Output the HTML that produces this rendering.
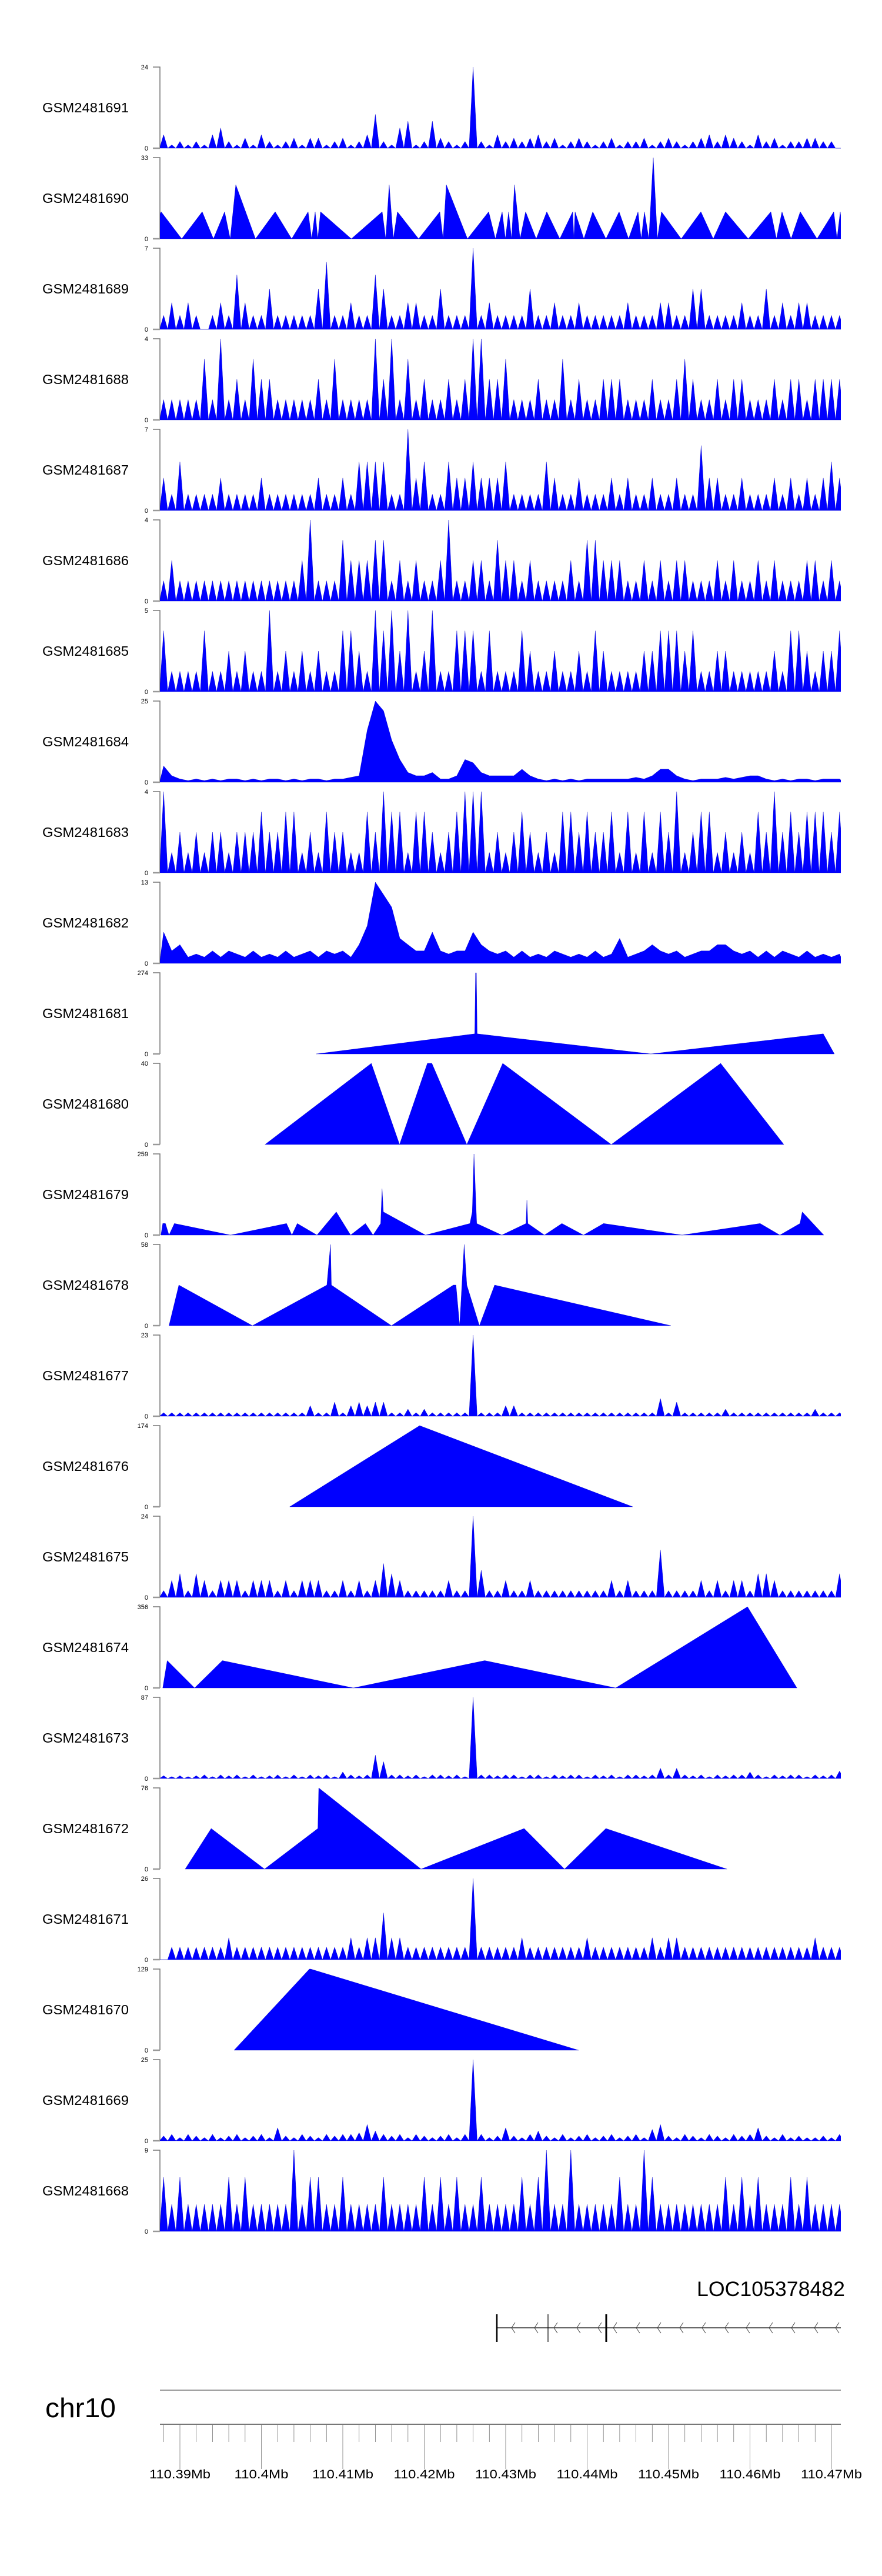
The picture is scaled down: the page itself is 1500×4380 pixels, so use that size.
<!DOCTYPE html>
<html><head><meta charset="utf-8"><style>
html,body{margin:0;padding:0;background:#fff;}
svg{display:block;font-family:"Liberation Sans",Arial,sans-serif;}
</style></head><body>
<svg id="chart" xmlns="http://www.w3.org/2000/svg" width="1500" height="4380" viewBox="0 0 1500 4380"></svg>
<script>
// ---- data ----
const names = ['GSM2481691','GSM2481690','GSM2481689','GSM2481688','GSM2481687','GSM2481686','GSM2481685','GSM2481684','GSM2481683','GSM2481682','GSM2481681','GSM2481680','GSM2481679','GSM2481678','GSM2481677','GSM2481676','GSM2481675','GSM2481674','GSM2481673','GSM2481672','GSM2481671','GSM2481670','GSM2481669','GSM2481668'];
const maxes = [24,33,7,4,7,4,5,25,4,13,274,40,259,58,23,174,24,356,87,76,26,129,25,9];
// dense binned tracks: value per 1 kb bin, bin k at 110.388+k kb
const v1 = [4,1,2,1,2,1,4,6,2,1,3,1,4,2,1,2,3,1,3,3,1,2,3,1,2,4,10,2,1,6,8,1,2,8,3,2,1,2,24,2,1,4,2,3,2,3,4,2,3,1,2,3,2,1,2,3,1,2,2,3,1,2,3,2,1,2,3,4,2,4,3,2,1,4,2,3,1,2,2,3,3,2,2,0];
const v3 = [1.2,2.3,1.2,2.3,1.2,0,1.2,2.3,1.2,4.7,2.3,1.2,1.2,3.5,1.2,1.2,1.2,1.2,1.2,3.5,5.8,1.2,1.2,2.3,1.2,1.2,4.7,3.5,1.2,1.2,2.3,2.3,1.2,1.2,3.5,1.2,1.2,1.2,7,1.2,2.3,1.2,1.2,1.2,1.2,3.5,1.2,1.2,2.3,1.2,1.2,2.3,1.2,1.2,1.2,1.2,1.2,2.3,1.2,1.2,1.2,2.3,2.3,1.2,1.2,3.5,3.5,1.2,1.2,1.2,1.2,2.3,1.2,1.2,3.5,1.2,2.3,1.2,2.3,2.3,1.2,1.2,1.2,1.2];
const v4 = [1,1,1,1,1,3,1,4,1,2,1,3,2,2,1,1,1,1,1,2,1,3,1,1,1,1,4,2,4,1,3,1,2,1,1,2,1,2,4,4,2,2,3,1,1,1,2,1,1,3,1,2,1,1,2,2,2,1,1,1,2,1,1,2,3,2,1,1,2,1,2,2,1,1,1,2,1,2,2,1,2,2,2,2];
const v5 = [2.8,1.4,4.2,1.4,1.4,1.4,1.4,2.8,1.4,1.4,1.4,1.4,2.8,1.4,1.4,1.4,1.4,1.4,1.4,2.8,1.4,1.4,2.8,1.4,4.2,4.2,4.2,4.2,1.4,1.4,7,2.8,4.2,1.4,1.4,4.2,2.8,2.8,4.2,2.8,2.8,2.8,4.2,1.4,1.4,1.4,1.4,4.2,2.8,1.4,1.4,2.8,1.4,1.4,1.4,2.8,1.4,2.8,1.4,1.4,2.8,1.4,1.4,2.8,1.4,1.4,5.6,2.8,2.8,1.4,1.4,2.8,1.4,1.4,1.4,2.8,1.4,2.8,1.4,2.8,1.4,2.8,4.2,2.8];
const v6 = [1,2,1,1,1,1,1,1,1,1,1,1,1,1,1,1,1,2,4,1,1,1,3,2,2,2,3,3,1,2,1,2,1,1,2,4,1,1,2,2,1,3,2,2,1,2,1,1,1,1,2,1,3,3,2,2,2,1,1,2,1,2,1,2,2,1,1,1,2,1,2,1,1,2,1,2,1,1,1,2,2,1,2,1];
const v7 = [3.75,1.25,1.25,1.25,1.25,3.75,1.25,1.25,2.5,1.25,2.5,1.25,1.25,5,1.25,2.5,1.25,2.5,1.25,2.5,1.25,1.25,3.75,3.75,2.5,1.25,5,3.75,5,2.5,5,1.25,2.5,5,1.25,1.25,3.75,3.75,3.75,1.25,3.75,1.25,1.25,1.25,3.75,2.5,1.25,1.25,2.5,1.25,1.25,2.5,1.25,3.75,2.5,1.25,1.25,1.25,1.25,2.5,2.5,3.75,3.75,3.75,2.5,3.75,1.25,1.25,2.5,2.5,1.25,1.25,1.25,1.25,1.25,2.5,1.25,3.75,3.75,2.5,1.25,2.5,2.5,3.75];
const v8 = [5,2,1,0.5,1,0.5,1,0.5,1,1,0.5,1,0.5,1,1,0.5,1,0.5,1,1,0.5,1,1,1.5,2,16,25,22,13,7,3,2,2,3,1,1,2,7,6,3,2,2,2,2,4,2,1,0.5,1,0.5,1,0.5,1,1,1,1,1,1,1.5,1,2,4,4,2,1,0.5,1,1,1,1.5,1,1.5,2,2,1,0.5,1,0.5,1,1,0.5,1,1,1];
const v9 = [4,1,2,1,2,1,2,2,1,2,2,2,3,2,2,3,3,1,2,1,3,2,2,1,1,3,2,4,3,3,1,3,3,2,1,2,3,4,4,4,1,2,1,2,3,2,1,2,1,3,3,2,3,2,2,3,1,3,1,3,1,3,2,4,1,2,3,3,1,2,1,2,1,3,2,4,2,3,2,3,3,3,2,3];
const v10 = [5,2,3,1,1.5,1,2,1,2,1.5,1,2,1,1.5,1,2,1,1.5,2,1,2,1.5,2,1,3,6,13,11,9,4,3,2,2,5,2,1.5,2,2,5,3,2,1.5,2,1,2,1,1.5,1,2,1.5,1,1.5,1,2,1,1.5,4,1,1.5,2,3,2,1.5,2,1,1.5,2,2,3,3,2,1.5,2,1,2,1,2,1.5,1,2,1,1.5,1,1.5];
const v15 = [1,1,1,1,1,1,1,1,1,1,1,1,1,1,1,1,1,1,3,1,1,4,1,3,4,3,4,4,1,1,2,1,2,1,1,1,1,1,23,1,1,1,3,3,1,1,1,1,1,1,1,1,1,1,1,1,1,1,1,1,1,5,1,4,1,1,1,1,1,2,1,1,1,1,1,1,1,1,1,1,2,1,1,1];
const v17 = [2,5,7,2,7,5,2,5,5,5,2,5,5,5,2,5,2,5,5,5,2,2,5,2,5,2,5,10,7,5,2,2,2,2,2,5,2,2,24,8,2,2,5,2,2,5,2,2,2,2,2,2,2,2,2,5,2,5,2,2,2,14,2,2,2,2,5,2,5,2,5,5,2,7,7,5,2,2,2,2,2,2,2,7];
const v19 = [3,2,3,2,3,4,2,4,3,4,2,4,2,3,4,2,4,2,4,3,4,2,7,4,3,4,25,18,4,4,3,4,2,4,4,3,4,2,87,4,4,3,4,4,2,4,4,2,4,3,4,4,2,4,3,4,2,4,4,3,4,11,4,11,4,3,4,2,4,3,4,4,7,4,2,4,3,4,4,2,4,3,4,8];
const v21 = [0,4,4,4,4,4,4,4,7,4,4,4,4,4,4,4,4,4,4,4,4,4,4,7,4,7,7,15,7,7,4,4,4,4,4,4,4,4,26,4,4,4,4,4,7,4,4,4,4,4,4,4,7,4,4,4,4,4,4,4,7,4,7,7,4,4,4,4,4,4,4,4,4,4,4,4,4,4,4,4,7,4,4,4];
const v23 = [1.5,2,1,2,1.5,1,2,1,1.5,2,1,1.5,2,1,4,1.5,1,2,1.5,1,2,1.5,2,2,2.5,5,3,2,1.5,2,1,2,1.5,1,1.5,2,1,2,25,2,1,1.5,4,1.5,1,2,3,1.5,1,2,1,1.5,2,1,1.5,2,1,1.5,2,1,3.5,5,1.5,1,2,1.5,1,2,1.5,1,2,1.5,2,4,1.5,1,2,1,1.5,1,1,1.5,1,2];
const v24 = [6,3,6,3,3,3,3,3,6,3,6,3,3,3,3,3,9,3,6,6,3,3,6,3,3,3,3,6,3,3,3,3,6,3,6,3,6,3,3,6,3,3,3,3,6,3,6,9,3,3,9,3,3,3,3,3,6,3,3,9,6,3,3,3,3,3,3,3,3,6,3,6,3,6,3,3,3,6,3,6,3,3,3,3];
// peak tracks: peak positions (kb from 110.38 Mb) and heights
const p2 = [7.69,12.74,15.49,16.86,21.70,25.74,26.61,27.26,34.84,35.70,36.71,41.91,42.71,47.91,49.57,50.36,51.08,52.45,55.05,58.23,58.52,60.69,63.93,66.25,67.04,68.12,69.13,73.97,77.00,82.56,83.93,86.17,90.29,91.08];
const v2 = [11,11,11,22,11,11,11,11,11,22,11,11,22,11,11,11,22,11,11,11,11,11,11,11,11,33,11,11,11,11,11,11,11,11];
// vertex tracks: exact polyline vertices (kb, value)
const p11 = [26.75,46.2,46.3,46.4,46.5,67.83,89.0,90.36];
const v11 = [0,68,274,274,68,0,68,0];
const p12 = [20.45,33.5,36.97,40.38,40.94,45.23,49.64,62.97,76.4,84.16];
const v12 = [0,40,0,40,40,0,40,0,40,0];
const p13 = [7.67,7.89,8.22,8.66,9.32,16.21,23.09,23.75,24.41,26.83,29.20,30.96,32.78,33.72,34.65,34.82,34.98,40.16,45.61,45.9,46.11,46.44,49.52,52.50,52.61,52.72,54.76,56.90,59.55,62.02,71.66,81.24,83.67,86.14,86.42,89.06];
const v13 = [0,37,37,0,37,0,37,0,37,0,74,0,37,0,37,148,74,0,37,74,259,37,0,37,111,37,0,37,0,37,0,37,0,37,74,0];
const p14 = [8.66,9.87,18.90,28.04,28.49,28.60,35.97,43.57,43.90,44.35,44.90,45.23,46.77,48.64,70.28];
const v14 = [0,29,0,29,58,29,0,29,29,0,58,29,0,29,0];
const p16 = [23.48,39.44,65.60];
const v16 = [0,174,0];
const p18 = [7.89,8.44,11.80,15.21,31.29,47.43,63.51,79.70,85.76];
const v18 = [0,120,0,120,0,120,0,356,0];
const p20 = [10.64,13.84,20.39,26.94,27.05,39.61,52.27,57.23,62.30,77.16];
const v20 = [0,38,0,38,76,0,38,0,38,0];
const p22 = [16.65,25.90,26.06,58.94];
const v22 = [0,129,129,0];
const tickLabels = ['110.39Mb','110.4Mb','110.41Mb','110.42Mb','110.43Mb','110.44Mb','110.45Mb','110.46Mb','110.47Mb'];

const specs = [
 {t:'bins',v:v1},{t:'peaks',p:p2,v:v2},{t:'bins',v:v3},{t:'bins',v:v4},{t:'bins',v:v5},{t:'bins',v:v6},
 {t:'bins',v:v7},{t:'joined',v:v8},{t:'bins',v:v9},{t:'joined',v:v10},{t:'verts',p:p11,v:v11},{t:'verts',p:p12,v:v12},
 {t:'verts',p:p13,v:v13},{t:'verts',p:p14,v:v14},{t:'bins',v:v15},{t:'verts',p:p16,v:v16},{t:'bins',v:v17},{t:'verts',p:p18,v:v18},
 {t:'bins',v:v19},{t:'verts',p:p20,v:v20},{t:'bins',v:v21},{t:'verts',p:p22,v:v22},{t:'bins',v:v23},{t:'bins',v:v24}
];

// ---- layout ----
const NS = 'http://www.w3.org/2000/svg';
const svg = document.getElementById('chart');
const L = 272, R = 1430, T0 = 114, PITCH = 154, H = 138;
function X(kb){ return 306 + (kb - 10) * 13.85; }
function mk(tag, attrs, parent){ const e = document.createElementNS(NS, tag); for (const k in attrs) e.setAttribute(k, attrs[k]); (parent||svg).appendChild(e); return e; }

const defs = mk('defs', {});
const cp = mk('clipPath', {id:'plotclip'}, defs);
mk('rect', {x:L, y:0, width:R-L, height:4380}, cp);

specs.forEach((s, i) => {
  const top = T0 + PITCH * i, base = top + H, mx = maxes[i];
  const Y = v => base - v / mx * H;
  const g = mk('g', {});
  
  
  // label
  const lab = mk('text', {x:72, y:top + H/2 + 8, 'font-size':23, fill:'#000', textLength:147, lengthAdjust:'spacingAndGlyphs'}, g);
  lab.textContent = names[i];
  
  
  // axis
  const ax = mk('path', {d:`M260 ${top}H${L}V${base}`, stroke:'#777', 'stroke-width':1.5, fill:'none'}, g);
  
  
  const zt = mk('line', {x1:260, x2:L, y1:base, y2:base, stroke:'#999', 'stroke-width':2.5}, g);
  
  
  const t1 = mk('text', {x:252, y:top + 4, 'font-size':11, 'text-anchor':'end', fill:'#000'}, g);
  t1.textContent = String(mx);
  
  
  const t0 = mk('text', {x:252, y:base + 4, 'font-size':11, 'text-anchor':'end', fill:'#000'}, g);
  t0.textContent = '0';
  
  
  // series
  let pts = [];
  if (s.t === 'verts') {
    pts = s.p.map((p, j) => [X(p), Y(s.v[j])]);
  } else {
    let pos, vals = s.v;
    if (s.t === 'peaks') pos = s.p; else pos = vals.map((_, k) => 8 + k);
    if (s.t === 'joined') {
      pts.push([X(pos[0] - 0.5), base]);
      pos.forEach((p, j) => pts.push([X(p), Y(vals[j])]));
      pts.push([X(pos[pos.length-1] + 0.5), base]);
    } else {
      const d0 = Math.min(pos.length > 1 ? pos[1]-pos[0] : 1, 3);
      pts.push([X(pos[0] - d0/2), base]);
      pos.forEach((p, j) => {
        pts.push([X(p), Y(vals[j])]);
        if (j < pos.length - 1) pts.push([X((p + pos[j+1]) / 2), base]);
      });
      const dn = Math.min(pos.length > 1 ? pos[pos.length-1]-pos[pos.length-2] : 1, 3);
      pts.push([X(pos[pos.length-1] + dn/2), base]);
    }
  }
  const d = 'M' + pts.map(q => q[0].toFixed(1) + ' ' + q[1].toFixed(1)).join('L') + `L${pts[pts.length-1][0].toFixed(1)} ${base}L${pts[0][0].toFixed(1)} ${base}Z`;
  const area = mk('path', {d:d, fill:'#0000ff', stroke:'#0000cc', 'stroke-width':0.4, 'clip-path':'url(#plotclip)'}, g);
  
  
});

// ---- gene track ----
const gg = mk('g', {});


const gl = mk('text', {x:1185, y:3904, 'font-size':35, fill:'#000', textLength:252, lengthAdjust:'spacingAndGlyphs'}, gg);
gl.textContent = 'LOC105378482';


const gline = mk('line', {x1:845, x2:1430, y1:3958, y2:3958, stroke:'#333', 'stroke-width':1.5}, gg);


[[845,2.5],[932,1.2],[1031,3]].forEach(e => {
  const b = mk('line', {x1:e[0], x2:e[0], y1:3935, y2:3982, stroke:'#000', 'stroke-width':e[1]}, gg);
  
  
});
[870,909,942,981,1017,1043,1082,1118,1156,1194,1233,1269,1308,1346,1385,1421].forEach(x => {
  const c = mk('path', {d:`M${x+6} 3949L${x} 3958L${x+6} 3967`, stroke:'#444', 'stroke-width':1, fill:'none'}, gg);
  
  
});

// ---- chromosome axis ----
const cg = mk('g', {});


const chr = mk('text', {x:77, y:4110, 'font-size':46, fill:'#000', textLength:120, lengthAdjust:'spacingAndGlyphs'}, cg);
chr.textContent = 'chr10';


const cl = mk('line', {x1:L, x2:R, y1:4064, y2:4064, stroke:'#999', 'stroke-width':2}, cg);


const al = mk('line', {x1:L, x2:R, y1:4122, y2:4122, stroke:'#777', 'stroke-width':2}, cg);


for (let k = 0; k <= 41; k++) {
  const kb = 8 + 2 * k, x = X(kb), major = (kb % 10 === 0);
  const tk = mk('line', {x1:x, x2:x, y1:4122, y2:major ? 4198 : 4152, stroke:'#777', 'stroke-width':0.8}, cg);
  
  
}
tickLabels.forEach((t, j) => {
  const tx = mk('text', {x:X(10 + 10*j), y:4214, 'font-size':21, 'text-anchor':'middle', fill:'#000', textLength:104, lengthAdjust:'spacingAndGlyphs'}, cg);
  if (t.length === 7) tx.setAttribute('textLength', 92);
  tx.textContent = t;
  
  
});
</script>
</body></html>
